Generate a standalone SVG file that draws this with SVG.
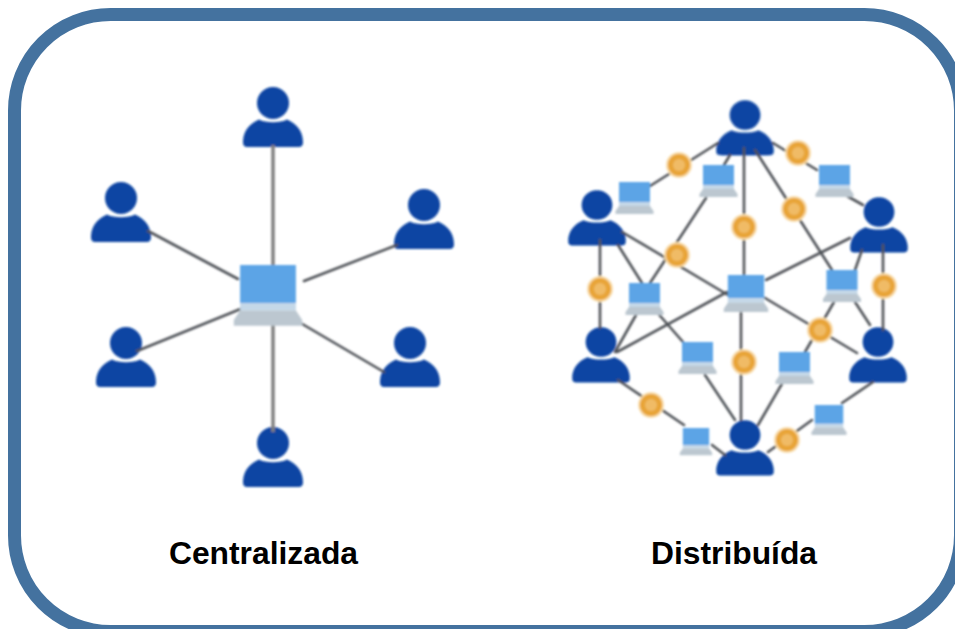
<svg xmlns="http://www.w3.org/2000/svg" width="955" height="629" viewBox="0 0 955 629">
<style>
.lbl{font-family:"Liberation Sans",Arial,sans-serif;font-weight:700;font-size:31.800px;fill:#000;text-anchor:middle}
.c{fill:none;stroke:#4f5258;stroke-width:2.6;stroke-linecap:round}
.cg{fill:none;stroke:#808080;stroke-width:3.500}
</style>
<defs>
<filter id="soft" x="-10%" y="-10%" width="120%" height="120%"><feGaussianBlur stdDeviation="1"/></filter>
<g id="person">
<circle cx="0" cy="0" r="16" fill="#0a45a3"/>
<path d="M-30,39 C-30,30 -25,21 -14,16.500 C-8,20 8,20 14,16.500 C25,21 30,30 30,39 C30,44 27,44 24,44 L-24,44 C-27,44 -30,44 -30,39 Z" fill="#0a45a3"/>
</g>
<g id="laptop">
<rect x="-15.500" y="0" width="31" height="20" fill="#5ba4e6"/>
<rect x="-15.500" y="20" width="31" height="4" fill="#c4d8e8"/>
<path d="M-15.500,24 L15.500,24 L19,29 L19,32 L-19,32 L-19,29 Z" fill="#bcc7d0"/>
</g>
<g id="coin">
<circle r="13" fill="#f8dcaa"/>
<circle r="11" fill="#e8a437"/>
<circle r="6" fill="#f0bb66"/>
</g>
</defs>
<rect width="955" height="629" fill="#fff"/>
<rect id="frame" x="14.500" y="14.500" width="946" height="617" rx="96" ry="96" fill="#fff" stroke="#44729f" stroke-width="13"/>
<g filter="url(#soft)">
<g id="people">
<use id="c-top" href="#person" x="273" y="103"/>
<use id="c-ul" href="#person" x="121" y="198"/>
<use id="c-ur" href="#person" x="424" y="205"/>
<use id="c-ll" href="#person" x="126" y="343"/>
<use id="c-lr" href="#person" x="410" y="343"/>
<use id="c-bot" href="#person" x="273" y="443"/>
<use id="d-top" href="#person" transform="translate(745 115) scale(.96 .92)"/>
<use id="d-l" href="#person" transform="translate(597 205) scale(.96 .92)"/>
<use id="d-r" href="#person" transform="translate(879 212) scale(.96 .92)"/>
<use id="d-ll" href="#person" transform="translate(601 342) scale(.96 .92)"/>
<use id="d-lr" href="#person" transform="translate(878 342) scale(.96 .92)"/>
<use id="d-bot" href="#person" transform="translate(745 435) scale(.96 .92)"/>
</g>
<g id="connectors">
<path class="cg" d="M273,145V265M273,325V432"/>
<path class="c" d="M148,231L238,279M137,351L243,308M304,281L397,245M292,318L384,372"/>
<path class="c" d="M718,143L650,186M773,143L817,170M730,155L724,165M744,148V275M755,150L832,270M706,198L650,283M622,232L728,295M600,240V328M618,245L642,283M615,352L636,315M617,352L727,292M655,310L683,342M705,375L735,420M741,312V420M783,382L758,425M765,298L857,353M834,302L805,352M855,302L870,325M883,245V330M850,238L766,280M855,270L862,250M847,196L863,205M873,382L842,403M812,420L768,452M618,380L684,425M712,445L725,455"/>
</g>
<g id="laptops">
<g id="lap-center"><use href="#laptop" transform="translate(268 265) scale(1.8 1.9)"/></g>
<use id="lap1" href="#laptop" x="718.500" y="165"/>
<use id="lap2" href="#laptop" x="634.500" y="182"/>
<use id="lap3" href="#laptop" x="834.500" y="165"/>
<use id="lap4" href="#laptop" transform="translate(746 275) scale(1.17 1.16)"/>
<use id="lap5" href="#laptop" x="644.500" y="283"/>
<use id="lap6" href="#laptop" x="842" y="270"/>
<use id="lap7" href="#laptop" x="697.500" y="342"/>
<use id="lap8" href="#laptop" x="794.500" y="352"/>
<use id="lap9" href="#laptop" transform="translate(829 405) scale(.92 .94)"/>
<use id="lap10" href="#laptop" transform="translate(696 428) scale(.85 .85)"/>
</g>
<g id="coins">
<use id="coin1" href="#coin" x="679" y="165"/>
<use id="coin2" href="#coin" x="798" y="153"/>
<use id="coin3" href="#coin" x="744" y="227"/>
<use id="coin4" href="#coin" x="794" y="209"/>
<use id="coin5" href="#coin" x="677" y="255"/>
<use id="coin6" href="#coin" x="600" y="289"/>
<use id="coin7" href="#coin" x="884" y="286"/>
<use id="coin8" href="#coin" x="820" y="330"/>
<use id="coin9" href="#coin" x="744" y="362"/>
<use id="coin10" href="#coin" x="651" y="405"/>
<use id="coin11" href="#coin" x="787" y="440"/>
</g>
</g>
<text class="lbl" x="263.500" y="564">Centralizada</text>
<text class="lbl" x="734" y="564">Distribuída</text>
</svg>
